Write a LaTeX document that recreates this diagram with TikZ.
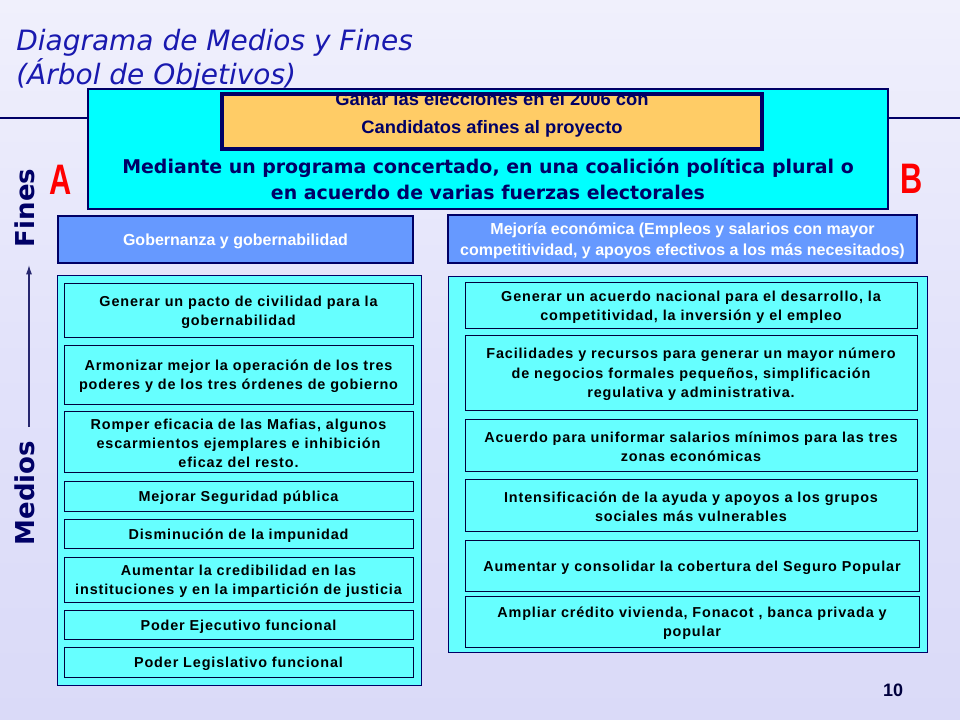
\documentclass[tikz,border=0pt]{standalone}
\usepackage{fontspec}
\usepackage{graphicx}
\setmainfont{Liberation Sans}
\newfontfamily\dvs{DejaVu Sans}
\newfontfamily\itemfam{Liberation Sans}[LetterSpace=6]
\usetikzlibrary{arrows.meta}
\definecolor{navy}{RGB}{0,0,102}
\definecolor{cyantop}{RGB}{0,255,255}
\definecolor{cyanlt}{RGB}{102,255,255}
\definecolor{orangebox}{RGB}{255,204,102}
\definecolor{hdrblue}{RGB}{102,153,255}
\definecolor{titleblue}{RGB}{25,25,175}
\definecolor{bgtop}{RGB}{240,240,252}
\definecolor{bgmid}{RGB}{226,226,250}
\definecolor{bgbot}{RGB}{218,218,248}
\definecolor{abred}{RGB}{255,0,0}
\newcommand\itemfont{\itemfam\bfseries\fontsize{10.8}{14.6}\selectfont}
% box by corners: #1 style, #2 name, #3 x1, #4 y1, #5 x2, #6 y2, #7 text
\newcommand\bx[7]{%
  \pgfmathsetmacro\bxw{(#5-#3)*0.75}\pgfmathsetmacro\bxh{(#6-#4)*0.75}%
  \node[#1, minimum width=\bxw pt, minimum height=\bxh pt] (#2) at ({(#3+#5)/2},{(#4+#6)/2}) {};
  \node[#1, draw=none, fill=none, yshift=-1.4pt] (#2t) at (#2.center) {#7};}
\begin{document}
\begin{tikzpicture}[x=0.75pt,y=-0.75pt,
  panel/.style={draw=navy, line width=0.75pt, fill=cyanlt, inner sep=0pt},
  ibox/.style={draw=navy!60!black, line width=0.75pt, fill=cyanlt, inner sep=0pt, align=center, font=\itemfont},
  hdr/.style={draw=navy, line width=2.2pt, fill=hdrblue, inner sep=0pt, text=white, align=center, font=\bfseries\fontsize{12}{15.75}\selectfont},
  titletxt/.style={anchor=base west, inner sep=0pt, text=titleblue, font=\dvs\itshape\fontsize{21}{25}\selectfont},
  sidetxt/.style={rotate=90, inner sep=0pt, text=navy, font=\dvs\bfseries\fontsize{19.5}{23}\selectfont},
  abtxt/.style={inner sep=0pt, text=abred, font=\bfseries\fontsize{32}{36}\selectfont},
  goaltxt/.style={inner sep=0pt, text=navy, font=\bfseries\fontsize{13.5}{16}\selectfont}
]
\useasboundingbox (0,0) rectangle (960,720);
\shade[top color=bgtop, bottom color=bgbot, middle color=bgmid] (0,0) rectangle (960,720);

% title
\node[titletxt] (t1) at (16,51) {Diagrama de Medios y Fines};
\node[titletxt] (t2) at (16,85) {(Árbol de Objetivos)};

% horizontal rule
\coordinate (hlL) at (0,118);
\coordinate (hlR) at (960,118);
\draw[navy, line width=2pt] (hlL) -- (hlR);

% top box
\bx{draw=navy, line width=1.5pt, fill=cyantop, inner sep=0pt}{top}{88}{89}{888}{209}{}
\bx{fill=orangebox, inner sep=0pt}{goal}{222}{94}{762}{149}{}
\begin{scope}
\clip (goal.south west) rectangle (goal.north east);
\node[goaltxt] (g1) at (492,99) {\scalebox{1.02}[1]{Ganar las elecciones en el 2006 con}};
\end{scope}
\node[goaltxt] (g2) at (492,129) {\scalebox{1.02}[1]{Candidatos afines al proyecto}};
\draw[navy, line width=3pt] (goal.south west) rectangle (goal.north east);
\node[inner sep=0pt, text=navy, font=\dvs\bfseries\fontsize{14.2}{19.5}\selectfont] (strat) at (488,181)
  {\begin{tabular}{@{}c@{}}Mediante un programa concertado, en una coalición política plural o\\en acuerdo de varias fuerzas electorales\end{tabular}};

% A / B
\node[abtxt] (A) at (61,180) {\scalebox{0.72}[1]{A}};
\node[abtxt] (B) at (912,179) {\scalebox{0.72}[1]{B}};

% side labels
\node[sidetxt] (fines) at (25,208) {Fines};
\node[sidetxt] (medios) at (25,493) {Medios};
\coordinate (arrS) at (29,427);
\coordinate (arrE) at (29,265);
\draw[navy!70!gray, line width=0.9pt, -{Latex[length=7pt,width=4.5pt]}] (arrS) -- (arrE);

% headers
\bx{hdr}{hL}{58}{216}{413}{263}{Gobernanza y gobernabilidad}
\bx{hdr}{hR}{448}{215}{917}{263}{Mejoría económica (Empleos y salarios con mayor\\competitividad, y apoyos efectivos a los más necesitados)}

% left panel
\bx{panel}{pL}{57}{276}{421}{685}{}
\bx{ibox}{l1}{64}{284}{413}{337}{Generar un pacto de civilidad para la\\gobernabilidad}
\bx{ibox}{l2}{64}{345}{413}{404}{Armonizar mejor la operación de los tres\\poderes y de los tres órdenes de gobierno}
\bx{ibox}{l3}{64}{411}{413}{472}{Romper eficacia de las Mafias, algunos\\escarmientos ejemplares e inhibición\\eficaz del resto.}
\bx{ibox}{l4}{64}{481}{413}{511}{Mejorar Seguridad pública}
\bx{ibox}{l5}{64}{519}{413}{548}{Disminución de la impunidad}
\bx{ibox}{l6}{64}{557}{413}{602}{Aumentar la credibilidad en las\\instituciones y en la impartición de justicia}
\bx{ibox}{l7}{64}{610}{413}{639}{Poder Ejecutivo funcional}
\bx{ibox}{l8}{64}{647}{413}{677}{Poder Legislativo funcional}

% right panel
\bx{panel}{pR}{448}{277}{927}{652}{}
\bx{ibox}{r1}{465}{283}{917}{328}{Generar un acuerdo nacional para el desarrollo, la\\competitividad, la inversión y el empleo}
\bx{ibox}{r2}{465}{335}{917}{410}{Facilidades y recursos para generar un mayor número\\de negocios formales pequeños, simplificación\\regulativa y administrativa.}
\bx{ibox}{r3}{465}{419}{917}{471}{Acuerdo para uniformar salarios mínimos para las tres\\zonas económicas}
\bx{ibox}{r4}{465}{479}{917}{531}{Intensificación de la ayuda y apoyos a los grupos\\sociales más vulnerables}
\bx{ibox}{r5}{465}{540}{919}{591}{Aumentar y consolidar la cobertura del Seguro Popular}
\bx{ibox}{r6}{465}{596}{919}{647}{Ampliar crédito vivienda, Fonacot , banca privada y\\popular}

% page number
\node[inner sep=0pt, text=navy!60!black, font=\bfseries\fontsize{13.5}{15}\selectfont] (pg) at (893,690) {10};
\end{tikzpicture}
\end{document}
